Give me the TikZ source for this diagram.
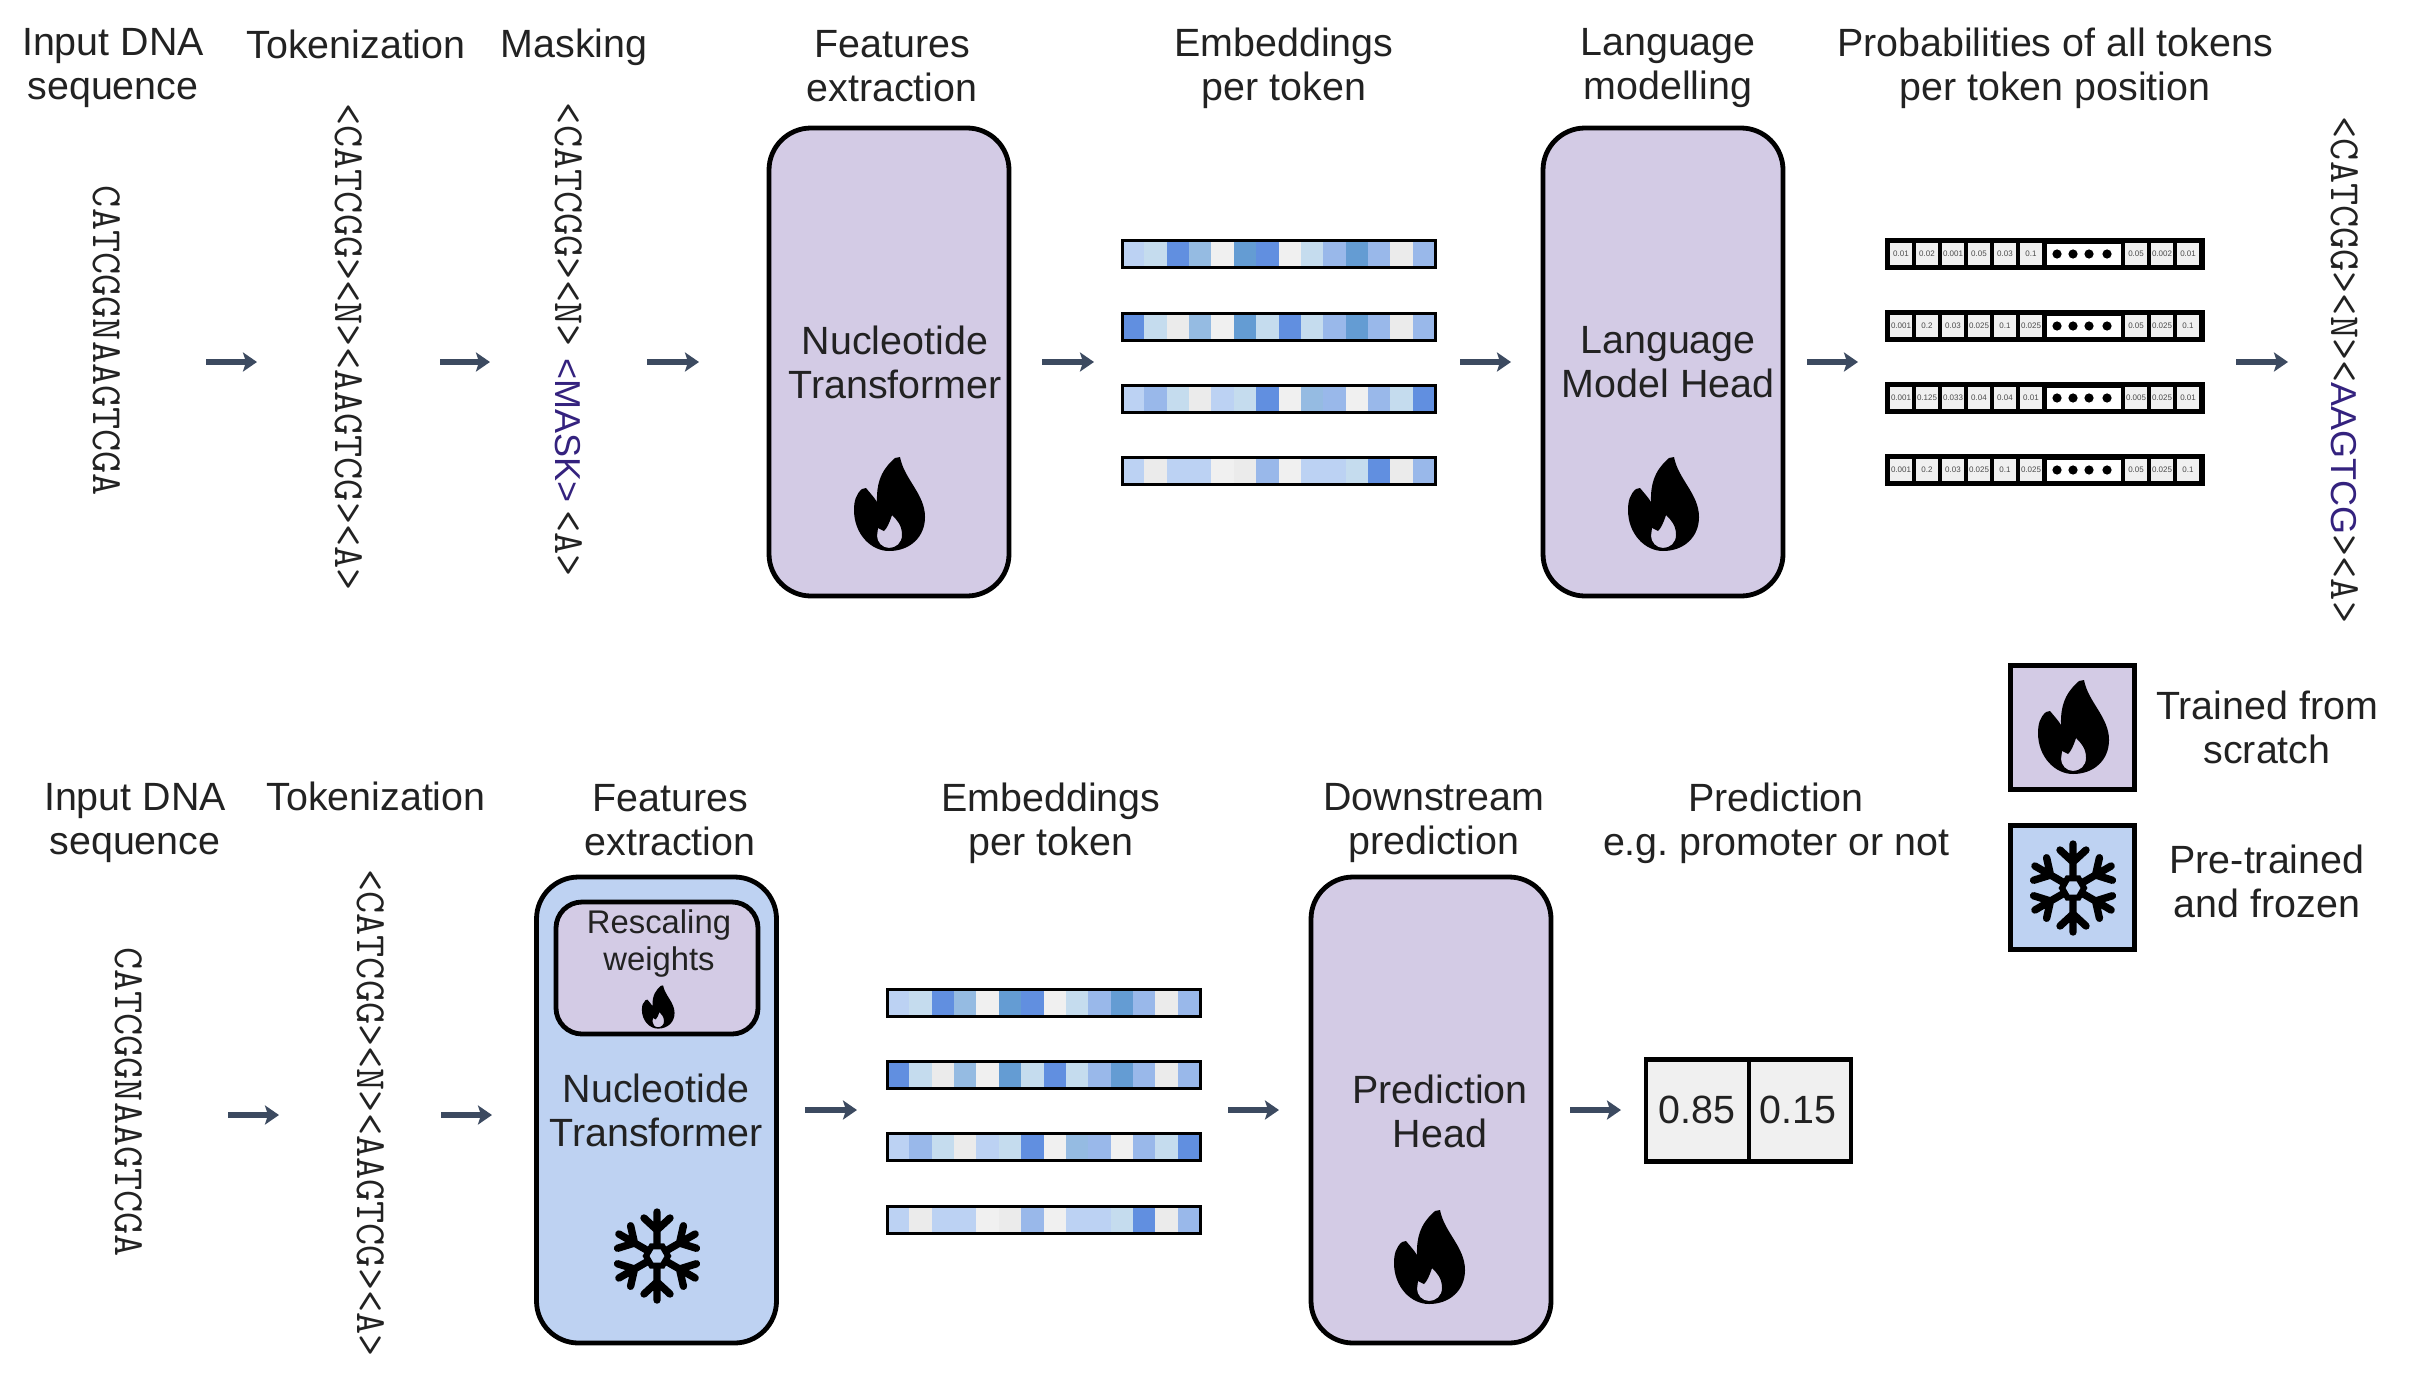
\documentclass[tikz,border=0pt]{standalone}
\usepackage{fontspec}
\setmainfont{Liberation Sans}
\setmonofont{Latin Modern Mono}
\usetikzlibrary{arrows.meta}
\definecolor{boxpurple}{HTML}{D3CBE5}
\definecolor{boxblue}{HTML}{BED2F2}
\definecolor{arrowc}{HTML}{3C4A60}
\definecolor{tokpurple}{HTML}{34227E}
\definecolor{inkc}{HTML}{222222}
\definecolor{ca}{HTML}{BCD2F3}
\definecolor{cb}{HTML}{C5DCEE}
\definecolor{cc}{HTML}{618FE0}
\definecolor{cd}{HTML}{95BBE2}
\definecolor{ce}{HTML}{F0F0F0}
\definecolor{cf}{HTML}{649CD3}
\definecolor{cg}{HTML}{99B8EA}
\definecolor{ch}{HTML}{EBEBEB}
\tikzset{
  lbl/.style={font=\fontsize{19.7}{22}\selectfont,text=inkc,align=center,inner sep=0pt},
  smalllbl/.style={font=\fontsize{16.4}{18.5}\selectfont,text=inkc,align=center,inner sep=0pt},
  tok/.style={font=\ttfamily\fontsize{21.5}{24}\selectfont,text=inkc,rotate=-90,inner sep=0pt},
  blk/.style={draw=black,line width=2.4pt,rounded corners=21pt,inner sep=0pt},
  legbox/.style={draw=black,line width=2.4pt,inner sep=0pt,minimum width=62pt,minimum height=62pt},
  arr/.style={draw=arrowc,line width=2.6pt,-{Stealth[length=7pt,width=9.5pt,inset=1.5pt]}},
  probcell/.style={fill=ce,inner sep=0pt,minimum width=11pt,minimum height=11pt,font=\fontsize{4}{4}\selectfont,text=black!70},
  flamepic/.pic={
    \fill[black,even odd rule] (0,47) .. controls (21,47) and (36,33) .. (36,13)
      .. controls (36,-10) and (15,-25) .. (11,-47) -- (6,-46)
      .. controls (-3,-38) and (-13,-27) .. (-12,-2)
      .. controls (-15,-7) and (-19,-11) .. (-23,-16) -- (-27,-15)
      .. controls (-33,-10) and (-35,-3) .. (-35,6)
      .. controls (-35,30) and (-18,47) .. (0,47) -- cycle
      (3,11) .. controls (8,16) and (13,21) .. (13,31)
      .. controls (13,39) and (7,44) .. (0,44)
      .. controls (-7,44) and (-12,38) .. (-12,32) -- (-11,24) -- (-5,27)
      .. controls (-2,24) and (0,20) .. (3,11) -- cycle;
  },
  snowpic/.pic={
    \foreach \a in {0,60,...,300}{
      \draw[black,line width=3.7pt,line cap=round,rotate=\a]
        (0,-11) -- (0,-44) (0,-26) -- (13,-38) (0,-26) -- (-13,-38);
    }
    \draw[black,line width=3pt] (0:11) -- (60:11) -- (120:11) -- (180:11) -- (240:11) -- (300:11) -- cycle;
  }
}
% arrow with two named free ends
\newcommand{\arrw}[4]{%
  \coordinate (#1s) at (#2,#4);
  \coordinate (#1e) at (#3,#4);
  \draw[arr] (#1s) -- (#1e);}
% embedding row: x0, y0, list
\newcommand{\emb}[3]{%
  \foreach \c [count=\i] in {#3}{
    \fill[\c] ({#1+(\i-1)*313/14},#2) rectangle ({#1+\i*313/14},#2+27);
  }
  \draw[black,line width=1.5pt] (#1,#2) rectangle (#1+313,#2+27);}
\newcommand{\embset}[5]{%
  \emb{#1}{#2}{ca,cb,cc,cd,ce,cf,cc,ce,cb,cg,cf,cg,ch,cg}
  \emb{#1}{#3}{cc,cb,ch,cd,ce,cf,cb,cc,cb,cg,cf,cg,ch,cg}
  \emb{#1}{#4}{ca,cg,cb,ch,ca,cb,cc,ce,cd,cg,ce,cg,cb,cc}
  \emb{#1}{#5}{ca,ch,ca,ca,ce,ch,cg,ce,ca,ca,cb,cc,ch,cg}}
% probability row: top y, six values, three values
\newcommand{\prow}[3]{%
  \fill[black] (1885,#1) rectangle (2205,#1+32);
  \foreach \v [count=\i] in {#2}{
    \node[probcell] at ({1901+26*(\i-1)},#1+16) {\v};
  }
  \fill[white] (2047,#1+6) rectangle (2121,#1+27);
  \foreach \d in {2057,2073,2089,2107}{
    \fill[black] (\d,#1+16) circle[radius=2.3pt];
  }
  \foreach \v [count=\i] in {#3}{
    \node[probcell] at ({2136+26*(\i-1)},#1+16) {\v};
  }}
\begin{document}
\begin{tikzpicture}[x=0.5pt,y=-0.5pt]
\useasboundingbox (0,0) rectangle (2428,1392);

% ---- top row labels
\node[lbl] (t1) at (113,68) {Input DNA\\sequence};
\node[lbl] (t2) at (356,44) {Tokenization};
\node[lbl] (t3) at (574,47) {Masking};
\node[lbl] (t4) at (892,66) {Features\\extraction};
\node[lbl] (t5) at (1284,68) {Embeddings\\per token};
\node[lbl] (t6) at (1668,68) {Language\\modelling};
\node[lbl] (t7) at (2055,68) {Probabilities of all tokens\\per token position};

% ---- top row tokens
\node[tok] (s1) at (107,341) {CATCGGNAAGTCGA};
\node[tok] (s2) at (349,347) {<CATCGG><N><AAGTCG><A>};
\node[tok] (s3) at (569,340) {<CATCGG><N>\hspace{6pt}{\rmfamily\fontsize{18}{20}\selectfont\color{tokpurple}<MASK>}\hspace{4pt}<A>};
\node[tok] (s4) at (2345,370) {<CATCGG><N><{\rmfamily\fontsize{18}{20}\selectfont\color{tokpurple}AAGTCG}><A>};

% ---- top row boxes
\node[blk,fill=boxpurple,minimum width=120pt,minimum height=234pt] (nt1) at (889,362) {};
\node[lbl] at (895,362) {Nucleotide\\Transformer};
\pic at (889,504) {flamepic};
\node[blk,fill=boxpurple,minimum width=120pt,minimum height=234pt] (lm) at (1663,362) {};
\node[lbl] at (1668,362) {Language\\Model Head};
\pic at (1663,504) {flamepic};

% ---- top embeddings
\embset{1122}{240}{313}{385}{457}

% ---- probabilities
\prow{238}{0.01,0.02,0.001,0.05,0.03,0.1}{0.05,0.002,0.01}
\prow{310}{0.001,0.2,0.03,0.025,0.1,0.025}{0.05,0.025,0.1}
\prow{382}{0.001,0.125,0.033,0.04,0.04,0.01}{0.005,0.025,0.01}
\prow{454}{0.001,0.2,0.03,0.025,0.1,0.025}{0.05,0.025,0.1}

% ---- top arrows
\arrw{a1}{206}{257}{362}
\arrw{a2}{440}{490}{362}
\arrw{a3}{647}{699}{362}
\arrw{a4}{1042}{1094}{362}
\arrw{a5}{1460}{1511}{362}
\arrw{a6}{1807}{1858}{362}
\arrw{a7}{2236}{2288}{362}

% ---- legend
\node[legbox,fill=boxpurple] (l1) at (2072.5,727.5) {};
\pic at (2073,727) {flamepic};
\node[legbox,fill=boxblue] (l2) at (2072.5,887.5) {};
\pic at (2073,888) {snowpic};
\node[lbl] at (2267,727) {Trained from\\scratch};
\node[lbl] at (2267,881) {Pre-trained\\and frozen};

% ---- bottom labels
\node[lbl] (b1) at (135,823) {Input DNA\\sequence};
\node[lbl] (b2) at (376,796) {Tokenization};
\node[lbl] (b3) at (670,820) {Features\\extraction};
\node[lbl] (b4) at (1051,823) {Embeddings\\per token};
\node[lbl] (b5) at (1434,823) {Downstream\\prediction};
\node[lbl] (b6) at (1776,823) {Prediction\\e.g.\ promoter or not};

% ---- bottom tokens
\node[tok] (u1) at (129,1102) {CATCGGNAAGTCGA};
\node[tok] (u2) at (371,1113) {<CATCGG><N><AAGTCG><A>};

% ---- bottom boxes
\node[blk,fill=boxblue,minimum width=120pt,minimum height=233pt] (nt2) at (656.5,1110) {};
\node[blk,fill=boxpurple,rounded corners=13pt,minimum width=101pt,minimum height=66pt] (rw) at (657,968) {};
\node[smalllbl] at (659,944) {Rescaling\\weights};
\pic[scale=0.46] at (658,1007) {flamepic};
\node[lbl] at (656,1110) {Nucleotide\\Transformer};
\pic at (657,1256) {snowpic};
\node[blk,fill=boxpurple,minimum width=120pt,minimum height=233pt] (ph) at (1431,1110) {};
\node[lbl] at (1440,1111) {Prediction\\Head};
\pic at (1429,1257) {flamepic};

% ---- bottom embeddings
\embset{887}{989}{1061}{1133}{1206}

% ---- result
\node[draw=black,line width=2.4pt,fill=ce,inner sep=0pt,minimum width=51.5pt,minimum height=51pt] (r1) at (1697.5,1110.5) {};
\node[draw=black,line width=2.4pt,fill=ce,inner sep=0pt,minimum width=51pt,minimum height=51pt] (r2) at (1800,1110.5) {};
\node[lbl] at (1697,1110) {0.85};
\node[lbl] at (1798,1110) {0.15};

% ---- bottom arrows
\arrw{c1}{228}{279}{1115}
\arrw{c2}{441}{492}{1115}
\arrw{c3}{805}{857}{1110}
\arrw{c4}{1228}{1279}{1110}
\arrw{c5}{1570}{1621}{1110}
\end{tikzpicture}
\end{document}
